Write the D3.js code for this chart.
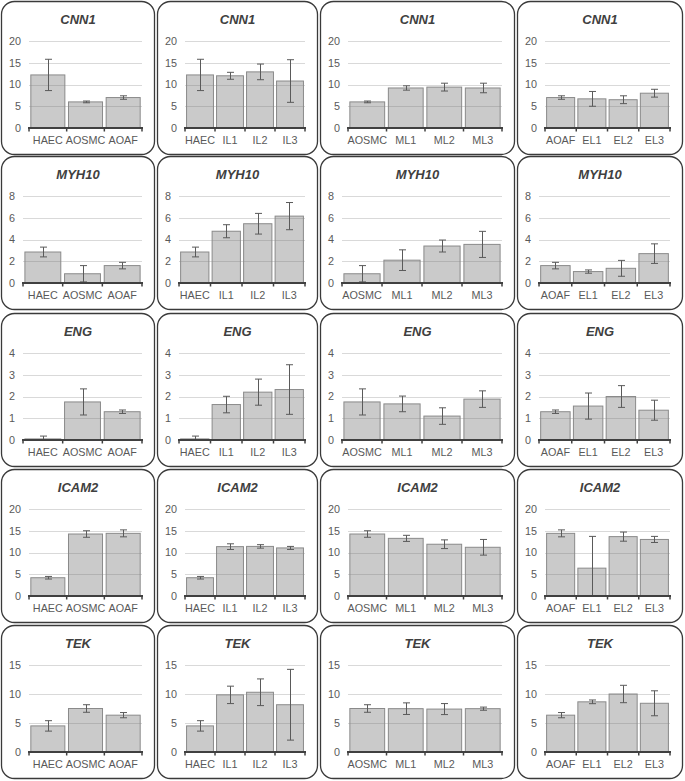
<!DOCTYPE html>
<html><head><meta charset="utf-8">
<script src="https://cdn.jsdelivr.net/npm/d3@7"></script>
<style>body{margin:0;background:#fff}svg{display:block}</style>
</head><body><svg id="chart" width="685" height="781"></svg>
<script>
// ---- data ----
const genes = ["CNN1", "MYH10", "ENG", "ICAM2", "TEK"];
const yMaxByGene = [20, 8, 4, 20, 15];
const yStepByGene = [5, 2, 1, 5, 5];
const groupLabels = [
  ["HAEC", "AOSMC", "AOAF"],
  ["HAEC", "IL1", "IL2", "IL3"],
  ["AOSMC", "ML1", "ML2", "ML3"],
  ["AOAF", "EL1", "EL2", "EL3"]
];
// means per gene, per panel
const cnn1Mean  = [[12.2, 6.0, 7.0], [12.2, 12.0, 12.9, 10.8], [6.0, 9.2, 9.4, 9.2], [7.0, 6.7, 6.5, 8.0]];
const cnn1Err   = [[3.6, 0.2, 0.4], [3.6, 0.8, 1.8, 4.9], [0.2, 0.5, 0.9, 1.1], [0.4, 1.7, 0.9, 0.9]];
const myh10Mean = [[2.85, 0.85, 1.6], [2.85, 4.76, 5.45, 6.15], [0.85, 2.1, 3.4, 3.55], [1.6, 1.05, 1.35, 2.7]];
const myh10Err  = [[0.45, 0.75, 0.3], [0.45, 0.6, 0.95, 1.25], [0.75, 0.95, 0.55, 1.2], [0.3, 0.15, 0.73, 0.9]];
const engMean   = [[0.05, 1.75, 1.3], [0.05, 1.63, 2.2, 2.32], [1.75, 1.66, 1.1, 1.88], [1.3, 1.56, 2.0, 1.37]];
const engErr    = [[0.13, 0.6, 0.08], [0.13, 0.38, 0.6, 1.14], [0.6, 0.36, 0.38, 0.38], [0.08, 0.6, 0.5, 0.46]];
const icam2Mean = [[4.2, 14.25, 14.4], [4.2, 11.35, 11.4, 11.05], [14.25, 13.25, 11.9, 11.2], [14.4, 6.4, 13.65, 13.0]];
const icam2Err  = [[0.3, 0.75, 0.8], [0.3, 0.65, 0.4, 0.35], [0.75, 0.7, 1.0, 1.8], [0.8, 7.3, 1.05, 0.7]];
const tekMean   = [[4.5, 7.5, 6.35], [4.5, 9.85, 10.3, 8.15], [7.5, 7.47, 7.4, 7.47], [6.35, 8.65, 10.0, 8.4]];
const tekErr    = [[0.9, 0.65, 0.45], [0.9, 1.5, 2.3, 6.1], [0.65, 1.0, 0.95, 0.27], [0.45, 0.32, 1.5, 2.15]];

const meansByGene = [cnn1Mean, myh10Mean, engMean, icam2Mean, tekMean];
const errsByGene = [cnn1Err, myh10Err, engErr, icam2Err, tekErr];

// ---- layout ----
const colX = [1, 157, 320, 517];
const colW = [154, 161, 195, 166];
const rowY = [1, 156, 313, 469, 625];
const panelH = 153;
const baseY = 127, topY = 40;
const font = "Arial, 'Liberation Sans', sans-serif";
const textColor = "#595959";

const svg = d3.select("#chart");

genes.forEach((gene, r) => {
  colX.forEach((cx, c) => {
    const pw = colW[c];
    const g = svg.append("g").attr("transform", `translate(${cx},${rowY[r]})`);
    g.append("rect")
      .attr("x", 0.5).attr("y", 0.5)
      .attr("width", pw - 1).attr("height", panelH)
      .attr("rx", 13).attr("ry", 13)
      .attr("fill", "#fff").attr("stroke", "#3a3a3a").attr("stroke-width", 1.3);

    g.append("text")
      .attr("x", pw / 2).attr("y", 23)
      .attr("text-anchor", "middle")
      .attr("font-family", font).attr("font-size", 13)
      .attr("font-weight", "bold").attr("font-style", "italic")
      .attr("fill", "#404040")
      .text(gene);

    const yMax = yMaxByGene[r], step = yStepByGene[r];
    const ticks = d3.range(0, yMax + step / 2, step);
    const y = d3.scaleLinear().domain([0, yMax]).range([baseY, topY]);

    const yAxisG = g.append("g");
    yAxisG.call(d3.axisLeft(y).tickValues(ticks).tickFormat(d3.format("d")).tickSize(0).tickPadding(8));
    yAxisG.select(".domain").remove();
    yAxisG.selectAll("text").attr("font-family", font).attr("font-size", 10.8).attr("fill", textColor);
    let maxW = 0;
    yAxisG.selectAll("text").each(function () { maxW = Math.max(maxW, this.getComputedTextLength()); });
    const left = 8 + maxW + 8;
    const right = pw - 13;
    yAxisG.attr("transform", `translate(${left},0)`);

    const labels = groupLabels[c];
    const means = meansByGene[r][c];
    const errs = errsByGene[r][c];
    const x = d3.scaleBand().domain(labels).range([left, right]).paddingInner(0.07).paddingOuter(0.035);

    // gridlines
    g.append("g").selectAll("line").data(ticks.filter(t => t > 0)).join("line")
      .attr("x1", left).attr("x2", right)
      .attr("y1", d => Math.round(y(d)) + 0.5).attr("y2", d => Math.round(y(d)) + 0.5)
      .attr("stroke", "#d9d9d9").attr("stroke-width", 1);

    // bars
    g.append("g").selectAll("rect").data(labels).join("rect")
      .attr("x", (d) => x(d) + 0.5)
      .attr("y", (d, i) => y(means[i]))
      .attr("width", x.bandwidth() - 1)
      .attr("height", (d, i) => baseY - y(means[i]))
      .attr("fill", "rgb(110,110,110)").attr("fill-opacity", 0.37)
      .attr("stroke", "#8a8a8a").attr("stroke-width", 1);

    // error bars
    const eg = g.append("g").attr("stroke", "#5a5a5a").attr("stroke-width", 1);
    labels.forEach((d, i) => {
      const xc = Math.round(x(d) + x.bandwidth() / 2) + 0.5;
      const lo = Math.max(0, means[i] - errs[i]);
      const hi = means[i] + errs[i];
      eg.append("line").attr("x1", xc).attr("x2", xc).attr("y1", y(lo)).attr("y2", y(hi));
      eg.append("line").attr("x1", xc - 3.5).attr("x2", xc + 3.5).attr("y1", y(hi)).attr("y2", y(hi));
      if (means[i] - errs[i] > 0) {
        eg.append("line").attr("x1", xc - 3.5).attr("x2", xc + 3.5).attr("y1", y(lo)).attr("y2", y(lo));
      }
    });

    // x axis labels
    const xAxisG = g.append("g").attr("transform", `translate(0,${baseY})`);
    xAxisG.call(d3.axisBottom(x).tickSize(0).tickPadding(8));
    xAxisG.select(".domain").remove();
    xAxisG.selectAll("text").attr("font-family", font).attr("font-size", 10.8).attr("fill", textColor);

    // axis baseline and boundary ticks
    const bx = d3.scaleLinear().domain([0, labels.length]).range([left, right]);
    g.append("line").attr("x1", left - 1).attr("x2", right + 1)
      .attr("y1", baseY).attr("y2", baseY)
      .attr("stroke", "#404040").attr("stroke-width", 2);
    g.append("g").selectAll("line").data(d3.range(0, labels.length + 1)).join("line")
      .attr("x1", d => bx(d)).attr("x2", d => bx(d))
      .attr("y1", baseY).attr("y2", baseY + 3.5)
      .attr("stroke", "#404040").attr("stroke-width", 1.5);
  });
});
</script>
</body></html>
